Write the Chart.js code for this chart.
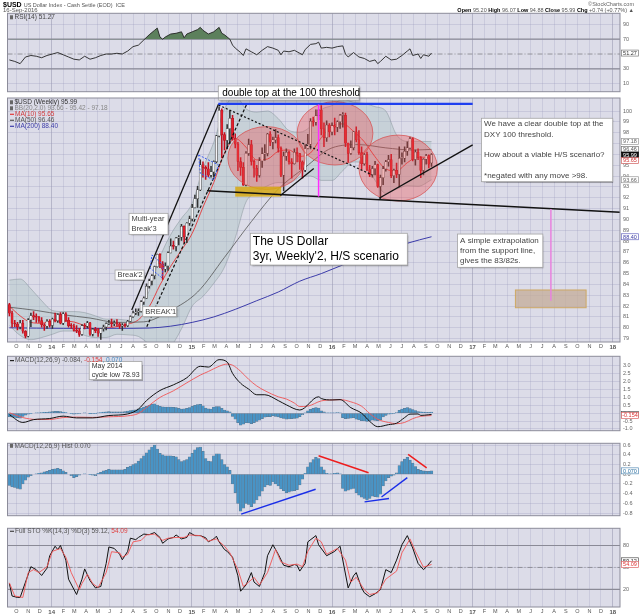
<!DOCTYPE html>
<html><head><meta charset="utf-8"><title>$USD weekly</title>
<script src="https://cdn.jsdelivr.net/npm/chart.js@4.4.1/dist/chart.umd.min.js"></script>
<style>
html,body{margin:0;padding:0;background:#fff}
#wrap{position:relative;width:640px;height:614px;overflow:hidden;background:#fff}
#wrap canvas{position:absolute;left:0}
</style></head><body><div id="wrap"></div>
<script>
// ================= DATA =================
const firstWeek = '2013-09-13';            // week index 0 (Friday)
const monthLetters = ['J','F','M','A','M','J','J','A','S','O','N','D'];
const priceTicks = [79,80,81,82,83,84,85,86,87,88,89,90,91,92,93,94,95,96,97,98,99,100];
const rsiTicks = [10,30,70,90];
const macdTicks = [-1,-0.5,0,0.5,1,1.5,2,2.5,3];
const histTicks = [-0.8,-0.6,-0.4,-0.2,0,0.2,0.4,0.6];
const stoTicks = [20,50,80];

const opens = [82.15,81.35,80.43,80.35,80.08,80.43,79.68,79.22,80.73,81.13,
80.99,80.98,80.67,80.28,80.16,80.59,80.23,80.81,80.66,81.22,
80.43,81.28,80.68,80.19,80.17,79.75,79.69,79.40,80.18,80.14,
80.46,79.41,79.86,79.73,79.50,79.92,80.07,80.38,80.40,80.39,
80.44,80.37,80.14,80.26,80.20,80.60,81.03,81.36,81.44,81.52,
82.39,82.74,83.83,84.33,84.80,85.65,86.77,85.90,85.40,85.70,
86.91,87.55,87.51,88.28,88.37,89.35,88.38,89.65,90.05,91.08,
91.91,92.72,95.03,94.80,94.66,94.08,94.38,95.33,97.70,100.06,
97.82,97.28,98.38,99.33,97.51,96.94,95.34,94.80,93.15,96.09,
96.90,95.35,94.72,94.05,95.40,96.05,96.09,97.88,97.13,97.34,
97.55,96.57,94.08,95.84,96.19,95.32,95.14,96.18,96.07,95.30,
94.55,96.54,96.94,99.05,98.98,99.56,100.08,98.35,97.54,98.70,
98.06,98.63,98.52,99.01,99.59,99.61,97.03,96.09,96.61,98.07,
97.33,96.16,95.14,95.99,94.60,94.10,94.69,95.06,93.05,93.86,
94.66,95.31,95.51,94.03,94.52,94.15,95.63,95.64,96.29,96.60,
97.45,95.53,96.21,95.71,94.52,95.55,95.88,95.20];
const highs = [82.25,81.55,80.70,80.50,80.70,80.70,79.75,80.85,81.35,81.50,
81.30,81.05,80.95,80.40,80.75,80.75,80.90,81.35,81.30,81.40,
81.40,81.40,80.95,80.40,80.35,80.20,79.95,80.30,80.40,80.60,
80.50,79.95,80.05,79.95,79.95,80.25,80.45,80.70,80.80,80.65,
80.75,80.45,80.40,80.40,80.70,81.10,81.55,81.75,81.75,82.50,
82.85,84.05,84.50,84.90,85.70,86.80,86.85,86.10,86.00,87.00,
88.20,88.00,88.35,88.50,89.55,89.40,89.70,90.30,91.40,92.25,
93.05,95.50,95.30,94.95,95.25,94.90,95.40,97.75,100.39,100.20,
98.00,98.75,100.05,99.60,97.90,97.10,95.70,95.25,96.25,97.40,
97.30,95.50,95.00,95.70,96.60,96.90,97.95,98.10,97.60,98.30,
97.80,96.70,96.20,96.50,96.30,95.60,96.50,96.60,96.10,95.40,
96.90,97.85,99.30,99.45,100.10,100.15,100.51,98.90,99.10,98.85,
98.90,99.35,99.10,99.70,99.85,99.80,97.05,97.25,98.10,98.55,
98.20,96.70,96.10,96.20,95.00,94.90,95.35,95.10,94.10,94.90,
95.45,95.90,96.00,94.65,95.20,96.70,96.15,96.70,97.15,97.60,
97.55,96.40,96.50,95.80,95.60,96.00,95.95,96.07];
const lows = [81.10,80.06,80.10,79.80,79.90,79.50,79.06,79.15,80.10,80.75,
80.50,80.50,80.05,79.75,79.95,80.05,79.95,80.55,80.50,80.35,
80.30,80.60,80.05,79.95,79.70,79.55,79.20,79.30,79.90,80.00,
79.30,79.25,79.55,79.20,78.93,79.70,79.80,80.30,80.10,80.20,
80.15,79.95,79.75,80.05,80.10,80.55,80.95,81.20,81.15,81.45,
82.15,82.70,83.65,83.95,84.50,85.60,85.55,84.47,85.15,85.30,
86.90,87.25,87.10,87.65,88.05,87.80,87.85,89.45,89.85,91.05,
91.10,92.65,93.90,93.70,93.95,93.90,93.90,95.20,97.60,95.70,
96.40,96.50,97.00,97.30,96.60,94.50,94.05,93.13,93.10,95.90,
95.00,93.90,93.50,93.90,94.80,95.45,95.85,96.80,96.50,97.05,
96.20,93.95,92.62,95.45,95.10,93.80,95.10,95.30,94.60,93.80,
94.40,96.50,96.50,98.60,98.70,99.20,97.80,96.70,97.20,97.60,
97.80,97.80,98.10,98.40,98.50,96.70,95.25,96.00,96.40,97.15,
96.00,94.60,95.00,94.50,93.95,93.90,94.10,92.95,91.92,93.20,
94.45,94.90,93.85,93.40,93.85,93.00,95.10,95.30,95.90,96.50,
95.40,95.00,95.50,93.85,94.10,95.10,94.75,94.88];
const closes = [81.35,80.43,80.35,80.08,80.43,79.68,79.22,80.73,81.13,80.99,
80.98,80.67,80.28,80.16,80.59,80.23,80.81,80.66,81.22,80.43,
81.28,80.68,80.19,80.17,79.75,79.69,79.40,80.18,80.14,80.46,
79.41,79.86,79.73,79.50,79.92,80.07,80.38,80.40,80.39,80.44,
80.37,80.14,80.26,80.20,80.60,81.03,81.36,81.44,81.52,82.39,
82.74,83.83,84.33,84.80,85.65,86.77,85.90,85.40,85.70,86.91,
87.55,87.51,88.28,88.37,89.35,88.38,89.65,90.05,91.08,91.91,
92.72,95.03,94.80,94.66,94.08,94.38,95.33,97.70,100.06,97.82,
97.28,98.38,99.33,97.51,96.94,95.34,94.80,93.15,96.09,96.90,
95.35,94.72,94.05,95.40,96.05,96.09,97.88,97.13,97.34,97.55,
96.57,94.08,95.84,96.19,95.32,95.14,96.18,96.07,95.30,94.55,
96.54,96.94,99.05,98.98,99.56,100.08,98.35,97.54,98.70,98.06,
98.63,98.52,99.01,99.59,99.61,97.03,96.09,96.61,98.07,97.33,
96.16,95.14,95.99,94.60,94.10,94.69,95.06,93.05,93.86,94.66,
95.31,95.51,94.03,94.52,94.15,95.63,95.64,96.29,96.60,97.45,
95.53,96.21,95.71,94.52,95.55,95.88,95.10,95.99];

const bbWeeks = [0,4,8,12,16,20,24,28,32,36,40,44,48,52,56,60,64,68,72,76,80,84,88,92,96,100,104,108,112,116,120,124,128,132,136,140,144,148,152,157];
const bbUpper = [84.4,84.5,83.6,82.5,81.6,81.5,81.5,81.4,81.1,80.8,80.8,80.7,81.6,83.4,86.5,88.6,90.1,91.5,94.7,97.1,100.2,101.4,100.2,99.9,100.0,99.3,98.2,98.05,98.6,100.1,100.5,101.1,100.8,100.7,100.4,100.0,97.8,97.2,97.2,97.18];
const bbLower = [80.2,79.3,78.9,79.1,79.4,79.7,79.7,79.3,79.1,79.1,79.4,79.35,79.2,78.5,77.95,78.3,79.9,82.0,82.9,84.1,85.6,88.3,91.6,92.5,93.1,93.4,93.35,93.9,94.0,93.6,93.6,94.5,95.3,95.2,93.6,92.4,92.8,93.1,93.05,93.66];

const ma10Weeks = [0,4,8,12,16,20,24,28,32,36,40,44,48,52,56,60,64,68,72,76,80,84,88,92,96,100,104,108,112,116,120,124,128,132,136,140,144,148,152,157];
const ma10 = [82.0,81.1,80.5,80.42,80.66,80.63,80.54,80.19,79.88,79.97,80.11,80.33,80.74,81.94,83.94,85.68,87.17,88.71,91.13,93.40,96.11,97.47,96.66,95.49,95.57,96.28,96.40,95.82,96.13,97.54,98.59,98.81,98.12,97.16,95.78,94.65,94.48,95.23,95.77,95.65];
const ma50Weeks = [0,10,20,30,40,50,60,70,80,90,100,110,120,130,140,150,157];
const ma50 = [81.9,81.6,81.2,80.9,80.5,80.55,81.6,83.3,86.5,89.8,92.8,94.8,96.6,96.9,96.6,96.4,96.46];
const ma200Weeks = [0,20,40,52,60,68,76,84,92,100,108,116,124,132,140,148,157];
const ma200 = [80.0,79.95,79.95,79.98,80.15,80.5,81.0,81.7,82.5,83.3,84.3,85.0,85.8,86.5,87.1,87.8,88.4];

const rsiWeeks = [0,2,4,6,8,10,12,14,16,18,20,22,24,26,28,30,32,34,36,38,40,42,44,46,48,50,52,54,55,56,57,58,60,62,64,65,66,68,70,71,72,74,76,78,79,80,82,83,84,86,87,88,90,92,94,96,98,100,101,102,104,106,108,109,110,112,114,115,116,118,120,122,124,125,126,128,130,132,134,136,137,138,140,142,144,146,148,149,150,152,153,154,156,157];
const rsiVals = [42,40,37,46,48,47,45,48,50,52,49,46,43,42,47,43,45,48,50,50,51,50,54,60,62,69,76,82,85,73,70,73,77,78,80,72,77,80,83,86,82,77,80,86,78,76,70,62,58,52,48,57,53,49,55,60,58,55,49,54,53,55,51,49,56,63,64,66,58,59,58,60,61,50,46,52,46,44,40,42,37,40,47,42,43,48,54,57,48,50,44,49,47,51.27];

const macdWeeks = [0,5,9,15,20,25,31,37,44,48,51,56,61,66,71,74,78,81,83,86,89,92,95,100,103,108,115,116,120,123,127,131,134,137,141,144,147,149,152,153,156,157];
const macdLine = [-0.1,-0.59,-0.41,-0.34,-0.19,-0.3,-0.3,-0.15,-0.05,0.26,0.8,1.44,1.8,2.25,2.98,2.93,3.4,3.25,2.53,1.9,1.53,1.17,1.17,0.8,0.53,0.2,1.04,0.93,0.84,0.86,0.35,0,-0.52,-0.86,-0.73,-0.64,-0.28,-0.06,-0.05,-0.14,-0.1,-0.084];
const signalWeeks = [0,5,10,15,20,25,31,37,44,48,51,56,61,66,71,74,78,81,83,86,89,92,95,100,103,106,108,111,116,120,123,127,131,134,137,141,144,147,150,153,157];
const signalLine = [0.03,-0.28,-0.4,-0.4,-0.28,-0.25,-0.27,-0.23,-0.17,-0.02,0.36,1.0,1.42,1.93,2.42,2.65,2.98,3.12,3.05,2.66,2.15,1.73,1.43,1.04,0.9,0.64,0.42,0.45,0.78,0.84,0.86,0.72,0.44,-0.02,-0.39,-0.59,-0.67,-0.59,-0.35,-0.2,-0.154];
const macdHist = [-0.23,-0.26,-0.27,-0.29,-0.31,-0.20,-0.12,-0.06,-0.03,0.0,
0.01,0.02,0.03,0.05,0.06,0.08,0.10,0.11,0.12,0.10,
0.07,0.04,0.0,-0.03,-0.07,-0.05,-0.02,0.0,0.01,0.0,
-0.01,-0.02,-0.03,0.02,0.04,0.07,0.08,0.10,0.09,0.09,
0.09,0.09,0.09,0.10,0.14,0.17,0.20,0.22,0.27,0.32,
0.38,0.44,0.50,0.56,0.60,0.52,0.43,0.40,0.38,0.38,
0.38,0.37,0.36,0.30,0.26,0.28,0.30,0.36,0.43,0.50,
0.55,0.56,0.47,0.32,0.27,0.26,0.38,0.42,0.42,0.30,
0.20,0.15,0.08,-0.20,-0.38,-0.60,-0.76,-0.70,-0.60,-0.62,
-0.67,-0.60,-0.53,-0.45,-0.35,-0.26,-0.22,-0.23,-0.16,-0.20,
-0.24,-0.30,-0.34,-0.38,-0.37,-0.35,-0.34,-0.32,-0.22,-0.10,
0.02,0.15,0.24,0.30,0.35,0.32,0.15,0.09,0.02,0.01,
0.01,0.02,0.03,0.01,-0.29,-0.35,-0.33,-0.31,-0.29,-0.38,
-0.43,-0.47,-0.50,-0.53,-0.50,-0.45,-0.46,-0.47,-0.41,-0.24,
-0.14,-0.07,-0.04,-0.02,0.03,0.18,0.26,0.31,0.35,0.29,
0.23,0.16,0.10,0.08,0.07,0.06,0.06,0.07];

const stoKWeeks = [0,1,3,4,6,8,10,12,14,15,17,18,19,21,22,25,27,28,30,32,34,36,37,39,41,42,44,45,47,48,50,52,54,56,57,59,61,62,64,66,67,69,71,73,74,76,77,78,80,81,83,85,86,88,90,91,93,95,96,98,100,102,104,106,107,108,110,111,114,115,118,121,123,126,128,129,131,132,134,136,138,140,142,144,146,148,150,152,154,155,157];
const stoK = [28,11,9,9,30,51,47,39,49,66,79,74.5,80,60,34,13,34,48,32,22,24,55.5,78,76,68,60.5,72,90,88,91,95.6,94.8,97.7,91,83,89,91,94.4,89,91,97.7,93.5,93.5,90.6,85,89,92.7,85,74.5,72,64,38.6,17.5,26,43,30,24,43,66,81,68,53,51,54,53,45,55.5,85,93.5,81,66,72,79,22,38.6,43,22,15.4,10,14,19.6,47,43,60,81,93.5,76.6,55.5,47,50.4,59.12];
const stoDWeeks = [0,2,5,7,9,11,14,16,19,21,23,26,27,29,31,33,36,38,41,42,44,46,49,51,54,57,59,62,65,67,71,74,77,80,82,85,87,89,91,93,96,99,101,104,107,109,111,114,116,118,122,125,127,129,132,134,137,140,144,146,149,151,154,157];
const stoD = [29,11,9,43,47,43,51,72,76,64,43,19.6,28,40.7,28,22.5,43,71.5,70,64,68,85,87,94.4,95.6,87,90,91,91,94.4,93.5,86,89,79,70,47,24,30,36.5,26,43,74.5,57.6,53,54.6,51,72,90,85,68,76,60,30,36.5,19.6,13,15.4,34,45,70,89,72,50.4,54.09];

// ================= RENDERING =================
const FONT = '"Liberation Sans", Arial, Helvetica, sans-serif';
Chart.defaults.font.family = FONT;
const PLOT_BG = '#dcdce8';
const X_MIN = -0.7, X_MAX = 227.1;
const wrap = document.getElementById('wrap');

const DAY = 86400000;
const t0 = Date.parse(firstWeek + 'T00:00:00Z');
const monthPos = [], monthLbl = [], monthYear = [];
for (let k = 2013 * 12 + 9; k <= 2018 * 12; k++) {
  const y = Math.floor(k / 12), m = k % 12;
  monthPos.push((Date.UTC(y, m, 1) - t0) / (7 * DAY));
  monthLbl.push(m === 0 ? String(y).slice(2) : monthLetters[m]);
  monthYear.push(m === 0);
}
const weeks = closes.map((_, i) => i);
const pts = (xs, ys) => xs.map((x, i) => ({ x, y: ys[i] }));
const isUp = i => closes[i] >= opens[i];

function xAxis(showLabels, h) {
  return {
    type: 'linear', min: X_MIN, max: X_MAX, offset: false,
    afterBuildTicks: s => { s.ticks = monthPos.map(v => ({ value: v })); },
    afterFit: s => { s.height = h; },
    ticks: {
      display: showLabels, autoSkip: false, maxRotation: 0, minRotation: 0, padding: 1.5, color: '#555',
      font: c => ({ size: monthYear[c.index] ? 6 : 5.5, weight: monthYear[c.index] ? 'bold' : 'normal' }),
      callback: (v, i) => monthLbl[i]
    },
    grid: { offset: false, drawTicks: false, lineWidth: 0.8,
      color: c => monthYear[c.index] ? 'rgba(125,125,155,0.5)' : 'rgba(150,150,185,0.32)' },
    border: { display: false }
  };
}
function yAxis(min, max, ticks, fmt) {
  return {
    type: 'linear', position: 'right', min, max, beginAtZero: false,
    afterBuildTicks: s => { s.ticks = ticks.map(v => ({ value: v })); },
    afterFit: s => { s.width = 20; },
    ticks: { color: '#666', font: { size: 5.5 }, padding: 3, autoSkip: false, callback: v => fmt(v) },
    grid: { drawTicks: false, color: 'rgba(150,150,185,0.35)', lineWidth: 0.8 },
    border: { display: false }
  };
}

function textBox(ctx, x, y, w, h, n) {
  ctx.save();
  ctx.shadowColor = 'rgba(0,0,0,0.3)'; ctx.shadowOffsetX = 1.5; ctx.shadowOffsetY = 1.5; ctx.shadowBlur = 1.5;
  ctx.fillStyle = '#fff'; ctx.fillRect(x, y, w, h);
  ctx.shadowColor = 'rgba(0,0,0,0)';
  ctx.strokeStyle = '#a4a4a4'; ctx.lineWidth = 0.8; ctx.strokeRect(x, y, w, h);
  ctx.fillStyle = n.color || '#333'; ctx.font = n.size + 'px ' + FONT; ctx.textBaseline = 'middle';
  const lh = n.lh || n.size * 1.25;
  let cy = y + (h - n.lines.length * lh) / 2 + lh / 2;
  n.lines.forEach(l => { ctx.fillText(l, x + (n.pad || 2.5), cy); cy += lh; });
  ctx.restore();
}

function drawNotes(ch, notes) {
  const ctx = ch.ctx, X = v => ch.scales.x.getPixelForValue(v), Y = v => ch.scales.y.getPixelForValue(v);
  notes.forEach(n => {
    ctx.save();
    if (n.kind === 'ellipse') {
      ctx.beginPath();
      ctx.ellipse(X(n.cx), Y(n.cy), Math.abs(X(n.cx + n.rx) - X(n.cx)), Math.abs(Y(n.cy + n.ry) - Y(n.cy)), 0, 0, Math.PI * 2);
      ctx.fillStyle = n.fill; ctx.fill();
      ctx.strokeStyle = n.stroke; ctx.lineWidth = 1; ctx.stroke();
    } else if (n.kind === 'rect') {
      const x = X(n.x1), y = Y(n.y1), w = X(n.x2) - x, h = Y(n.y2) - y;
      ctx.fillStyle = n.fill; ctx.fillRect(x, y, w, h);
      if (n.stroke) { ctx.strokeStyle = n.stroke; ctx.lineWidth = 1; ctx.strokeRect(x, y, w, h); }
    } else if (n.kind === 'line') {
      ctx.strokeStyle = n.color; ctx.lineWidth = n.width || 1; ctx.setLineDash(n.dash || []);
      ctx.beginPath(); ctx.moveTo(X(n.x1), Y(n.y1)); ctx.lineTo(X(n.x2), Y(n.y2)); ctx.stroke();
    } else if (n.kind === 'poly') {
      ctx.strokeStyle = n.color; ctx.lineWidth = n.width || 1; ctx.setLineDash(n.dash || []);
      ctx.beginPath();
      n.pts.forEach((p, i) => i ? ctx.lineTo(X(p[0]), Y(p[1])) : ctx.moveTo(X(p[0]), Y(p[1])));
      ctx.closePath(); ctx.stroke();
    } else if (n.kind === 'box') {
      const x = X(n.x1), y = Y(n.y1);
      textBox(ctx, x, y, X(n.x2) - x, Y(n.y2) - y, n);
    }
    ctx.restore();
  });
}

function drawLegend(ch, rows, y0) {
  const ctx = ch.ctx, a = ch.chartArea;
  ctx.save(); ctx.textBaseline = 'middle'; ctx.font = '6.5px ' + FONT;
  rows.forEach((r, i) => {
    const y = a.top + y0 + i * 6;
    let x = a.left + 2.5;
    if (r.icon) { ctx.fillStyle = '#666'; ctx.fillRect(x, y - 2, 3, 4); x += 4.5; }
    if (r.swatch) { ctx.strokeStyle = r.swatch; ctx.lineWidth = 1.2; ctx.beginPath(); ctx.moveTo(x, y); ctx.lineTo(x + 4, y); ctx.stroke(); x += 5; }
    r.parts.forEach(p => { ctx.fillStyle = p[1]; ctx.fillText(p[0], x, y); x += ctx.measureText(p[0]).width; });
  });
  ctx.restore();
}

function drawValueBoxes(ch, boxes, gap) {
  const ctx = ch.ctx, a = ch.chartArea, ys = ch.scales.y;
  let last = -1e9;
  ctx.save(); ctx.font = '5.5px ' + FONT; ctx.textBaseline = 'middle'; ctx.textAlign = 'center';
  boxes.forEach(b => {
    let y = ys.getPixelForValue(b.v);
    if (y < last + gap) y = last + gap;
    last = y;
    const x = a.right + 1.5, w = 17, h = 6;
    ctx.fillStyle = b.bg || '#fff'; ctx.fillRect(x, y - h / 2, w, h);
    ctx.strokeStyle = b.border; ctx.lineWidth = 0.7; ctx.strokeRect(x, y - h / 2, w, h);
    ctx.fillStyle = b.fg; ctx.fillText(b.t, x + w / 2, y + 0.3);
  });
  ctx.restore();
}

function decor(d) {
  return {
    id: 'decor',
    beforeDraw(ch) {
      const { ctx, chartArea: a } = ch;
      ctx.save(); ctx.fillStyle = PLOT_BG; ctx.fillRect(a.left, a.top, a.right - a.left, a.bottom - a.top); ctx.restore();
    },
    beforeDatasetsDraw(ch) {
      const { ctx, chartArea: a } = ch, ys = ch.scales.y;
      (d.refs || []).forEach(r => {
        const y = ys.getPixelForValue(r.v);
        ctx.save(); ctx.strokeStyle = r.color; ctx.lineWidth = r.w || 1; ctx.setLineDash(r.dash || []);
        ctx.beginPath(); ctx.moveTo(a.left, y); ctx.lineTo(a.right, y); ctx.stroke(); ctx.restore();
      });
    },
    afterDatasetsDraw(ch) { drawNotes(ch, d.notes || []); },
    afterDraw(ch) {
      const { ctx, chartArea: a } = ch;
      ctx.save(); ctx.strokeStyle = '#8c8c9a'; ctx.lineWidth = 1;
      ctx.strokeRect(a.left, a.top, a.right - a.left, a.bottom - a.top); ctx.restore();
      if (d.legend) drawLegend(ch, d.legend, d.legendY || 4.3);
      if (d.boxes) drawValueBoxes(ch, d.boxes, d.gap || 0);
      if (d.extra) d.extra(ch);
    }
  };
}

function panel(top, height, padTop, type, datasets, scales, deco) {
  const c = document.createElement('canvas');
  c.width = 640; c.height = height;
  c.style.top = top + 'px'; c.style.width = '640px'; c.style.height = height + 'px';
  wrap.appendChild(c);
  return new Chart(c, {
    type, data: { datasets },
    options: {
      responsive: false, animation: false, events: [],
      layout: { padding: { left: 7.5, right: 0, top: padTop, bottom: 0 } },
      plugins: { legend: { display: false }, tooltip: { enabled: false } },
      scales
    },
    plugins: [decor(deco)]
  });
}

function header(ch) {
  const ctx = ch.ctx;
  ctx.save(); ctx.textBaseline = 'middle';
  ctx.font = 'bold 7px ' + FONT; ctx.fillStyle = '#000'; ctx.fillText('$USD', 3, 5);
  const w = ctx.measureText('$USD').width;
  ctx.font = '5.5px ' + FONT; ctx.fillStyle = '#555';
  ctx.fillText('US Dollar Index - Cash Settle (EOD)  ICE', 5 + w, 5);
  ctx.font = '6px ' + FONT; ctx.fillText('16-Sep-2016', 3, 10.5);
  ctx.textAlign = 'right'; ctx.font = '5.5px ' + FONT; ctx.fillStyle = '#666';
  ctx.fillText('\u00A9StockCharts.com', 634, 4.5);
  const parts = [['Open', 1], [' 95.20 ', 0], ['High', 1], [' 96.07 ', 0], ['Low', 1], [' 94.88 ', 0], ['Close', 1], [' 95.99 ', 0], ['Chg', 1], [' +0.74 (+0.77%) \u25B2', 0]];
  ctx.textAlign = 'left';
  let total = 0;
  parts.forEach(p => { ctx.font = (p[1] ? 'bold ' : '') + '5.5px ' + FONT; total += ctx.measureText(p[0]).width; });
  let x = 634 - total;
  parts.forEach(p => {
    ctx.font = (p[1] ? 'bold ' : '') + '5.5px ' + FONT; ctx.fillStyle = p[1] ? '#000' : '#555';
    ctx.fillText(p[0], x, 10.5); x += ctx.measureText(p[0]).width;
  });
  ctx.restore();
}

// ---- RSI panel ----
panel(0, 98, 13.3, 'line', [
  { data: pts(rsiWeeks, rsiVals), borderColor: '#222', borderWidth: 0.9, pointRadius: 0, tension: 0,
    fill: { target: { value: 70 }, above: 'rgb(92,128,92)', below: 'rgba(0,0,0,0)' } }
], { x: xAxis(false, 0), y: yAxis(-0.9, 105, rsiTicks, v => String(v)) }, {
  refs: [{ v: 70, color: '#8a8a96', w: 1.2 }, { v: 30, color: '#8a8a96', w: 1.2 }, { v: 50, color: '#8a8a90', w: 0.9, dash: [5, 2, 1, 2] }],
  legend: [{ icon: true, parts: [['RSI(14) 51.27', '#444']] }], legendY: 4,
  boxes: [{ v: 51.27, t: '51.27', fg: '#333', border: '#777' }],
  extra: header
});

// ---- Price panel ----
const mainNotes = [
  { kind: 'ellipse', cx: 95.6, cy: 95.66, rx: 14.35, ry: 2.9, fill: 'rgba(238,70,70,0.34)', stroke: 'rgba(215,80,80,0.75)' },
  { kind: 'ellipse', cx: 121.1, cy: 97.94, rx: 14.1, ry: 2.92, fill: 'rgba(238,70,70,0.34)', stroke: 'rgba(215,80,80,0.75)' },
  { kind: 'ellipse', cx: 144.6, cy: 94.74, rx: 14.6, ry: 3.04, fill: 'rgba(238,70,70,0.34)', stroke: 'rgba(215,80,80,0.75)' },
  { kind: 'rect', x1: 84.0, y1: 93.02, x2: 101.1, y2: 92.1, fill: 'rgba(214,168,18,0.85)' },
  { kind: 'line', x1: 73.5, y1: 92.64, x2: 227.1, y2: 90.66, color: '#111', width: 1.6 },
  { kind: 'line', x1: 137.5, y1: 91.95, x2: 172.3, y2: 96.87, color: '#111', width: 1.4 },
  { kind: 'line', x1: 100.8, y1: 92.2, x2: 113.2, y2: 94.7, color: '#111', width: 1.3 },
  { kind: 'line', x1: 77.8, y1: 100.55, x2: 135, y2: 94.1, color: '#111', width: 1.2, dash: [2, 2] },
  { kind: 'line', x1: 45.5, y1: 81.64, x2: 77.8, y2: 100.65, color: '#111', width: 1.3 },
  { kind: 'line', x1: 51.1, y1: 80.1, x2: 88.4, y2: 100.7, color: '#111', width: 1.2, dash: [3, 2] },
  { kind: 'poly', pts: [[70.4, 95.94], [77.8, 95.02], [76.0, 93.63], [71.0, 94.25]], color: '#3a5cf0', width: 1, dash: [2, 1.5] },
  { kind: 'poly', pts: [[53.0, 86.72], [57.3, 85.8], [56.7, 84.62], [52.4, 85.49]], color: '#3a5cf0', width: 1, dash: [2, 1.5] },
  { kind: 'line', x1: 77.7, y1: 100.65, x2: 172.3, y2: 100.65, color: '#1e3ff0', width: 2.2 },
  { kind: 'line', x1: 115, y1: 100.6, x2: 115, y2: 92.1, color: '#ff2cff', width: 1.5 },
  { kind: 'rect', x1: 188.2, y1: 83.49, x2: 214.5, y2: 81.85, fill: 'rgba(196,172,152,0.75)', stroke: 'rgba(205,165,90,0.9)' },
  { kind: 'line', x1: 201.4, y1: 90.95, x2: 201.4, y2: 82.5, color: 'rgb(232,130,222)', width: 1.5 },
  { kind: 'box', x1: 77.7, y1: 102.31, x2: 130.1, y2: 101.01, lines: ['double top at the 100 threshold'], size: 10, color: '#000', pad: 4 },
  { kind: 'box', x1: 44.5, y1: 90.56, x2: 59, y2: 88.62, lines: ['Multi-year', "Break'3"], size: 7.5, lh: 9.7, color: '#444' },
  { kind: 'box', x1: 39.3, y1: 85.33, x2: 50.1, y2: 84.41, lines: ["Break'2"], size: 7.5, color: '#444' },
  { kind: 'box', x1: 49.6, y1: 81.95, x2: 62.1, y2: 81.03, lines: ["BREAK'1"], size: 7.5, color: '#444' },
  { kind: 'box', x1: 89.6, y1: 88.72, x2: 148, y2: 85.79, lines: ['The US Dollar', "3yr, Weekly'2, H/S scenario"], size: 12, lh: 15, color: '#000' },
  { kind: 'box', x1: 175.6, y1: 99.33, x2: 224.4, y2: 93.48, lines: ['We have a clear double top at the', 'DXY 100 threshold.', '', 'How about a viable H/S scenario?', '', '*negated with any move >98.'], size: 8, lh: 10.3, color: '#444' },
  { kind: 'box', x1: 166.7, y1: 88.65, x2: 198.4, y2: 85.58, lines: ['A simple extrapolation', 'from the support line,', 'gives the 83/82s.'], size: 8, lh: 10.3, color: '#444' }
];
const lineDs = (xs, ys, color, w, order) => ({ type: 'line', data: pts(xs, ys), borderColor: color, borderWidth: w,
  pointRadius: 0, fill: false, cubicInterpolationMode: 'monotone', order });
panel(80, 270, 18, 'bar', [
  lineDs(bbWeeks, bbUpper, 'rgba(125,138,145,0.75)', 0.6, 20),
  Object.assign(lineDs(bbWeeks, bbLower, 'rgba(125,138,145,0.75)', 0.6, 20), { fill: '-1', backgroundColor: 'rgba(165,192,190,0.38)' }),
  lineDs(ma200Weeks, ma200, 'rgb(60,60,170)', 1, 10),
  lineDs(ma50Weeks, ma50, 'rgb(85,85,85)', 0.8, 10),
  lineDs(ma10Weeks, ma10, 'rgb(228,55,55)', 0.9, 10),
  { type: 'bar', data: weeks.map(i => ({ x: i, y: [lows[i], highs[i]] })), barThickness: 0.9, grouped: false, order: 3,
    backgroundColor: c => isUp(c.dataIndex) ? '#333' : '#c41020', borderWidth: 0 },
  { type: 'bar', data: weeks.map(i => ({ x: i, y: [opens[i], closes[i]] })), barThickness: 2.2, grouped: false, order: 2,
    minBarLength: 1, borderSkipped: false, borderWidth: 0.5,
    backgroundColor: c => isUp(c.dataIndex) ? '#f3f3f6' : '#e2202c',
    borderColor: c => isUp(c.dataIndex) ? '#333' : '#b2101c' }
], { x: xAxis(true, 8), y: yAxis(78.69, 101.2, priceTicks, v => String(v)) }, {
  notes: mainNotes,
  legend: [
    { icon: true, parts: [['$USD (Weekly) 95.99', '#333']] },
    { icon: true, parts: [['BB(20,2.0) 93.66 - 95.42 - 97.18', '#888']] },
    { swatch: 'rgb(228,55,55)', parts: [['MA(10) 95.65', '#d03a3a']] },
    { swatch: '#555', parts: [['MA(50) 96.46', '#555']] },
    { swatch: 'rgb(60,60,170)', parts: [['MA(200) 88.40', '#3c3ca8']] }
  ], legendY: 4.3,
  boxes: [
    { v: 97.18, t: '97.18', fg: '#666', border: '#999' },
    { v: 96.46, t: '96.46', fg: '#555', border: '#777' },
    { v: 95.99, t: '95.99', fg: '#fff', bg: '#111', border: '#000' },
    { v: 95.65, t: '95.65', fg: '#d03030', border: '#d06060' },
    { v: 93.66, t: '93.66', fg: '#666', border: '#999' },
    { v: 88.40, t: '88.40', fg: '#3a3aa0', border: '#6a6ac0' }
  ], gap: 5.6
});

// ---- MACD panel ----
const histBar = () => ({ type: 'bar', data: weeks.map(i => ({ x: i, y: macdHist[i] })), barPercentage: 1, categoryPercentage: 1,
  grouped: false, order: 3, backgroundColor: 'rgb(72,148,198)', borderColor: 'rgb(95,118,140)', borderWidth: 0.5, borderSkipped: false });
panel(350, 87, 0, 'bar', [
  histBar(),
  lineDs(signalWeeks, signalLine, 'rgb(240,85,85)', 0.9, 2),
  lineDs(macdWeeks, macdLine, '#111', 1, 1)
], { x: xAxis(false, 0), y: yAxis(-1.114, 3.614, macdTicks, v => v.toFixed(1)) }, {
  notes: [{ kind: 'box', x1: 29.7, y1: 3.29, x2: 49.3, y2: 2.13, lines: ['May 2014', 'cycle low 78.93'], size: 7, lh: 9.3, color: '#333' }],
  legend: [{ swatch: '#222', parts: [['MACD(12,26,9) -0.084, ', '#555'], ['-0.154', '#e04040'], [', 0.070', '#4a8cc0']] }], legendY: 4.3,
  boxes: [{ v: -0.084, t: '-0.084', fg: '#222', border: '#555' }, { v: -0.154, t: '-0.154', fg: '#d33', border: '#d66' }], gap: 0
});

// ---- MACD histogram panel ----
panel(437, 85, 0, 'bar', [histBar()],
  { x: xAxis(false, 0), y: yAxis(-0.854, 0.637, histTicks, v => v.toFixed(1)) }, {
  notes: [
    { kind: 'line', x1: 115, y1: 0.38, x2: 133.6, y2: 0.03, color: '#ee1c1c', width: 1.4 },
    { kind: 'line', x1: 148.3, y1: 0.41, x2: 155.2, y2: 0.13, color: '#ee1c1c', width: 1.4 },
    { kind: 'line', x1: 86.2, y1: -0.82, x2: 113.9, y2: -0.31, color: '#1a2ee8', width: 1.4 },
    { kind: 'line', x1: 132.1, y1: -0.57, x2: 141.2, y2: -0.5, color: '#1a2ee8', width: 1.4 },
    { kind: 'line', x1: 138.4, y1: -0.47, x2: 148, y2: -0.07, color: '#1a2ee8', width: 1.4 }
  ],
  legend: [{ icon: true, parts: [['MACD(12,26,9) Hist 0.070', '#555']] }], legendY: 2.5,
  boxes: [{ v: 0.07, t: '0.070', fg: '#2a6fa0', border: '#5a8fb8' }]
});

// ---- Full stochastics panel ----
panel(522, 92, 0, 'line', [
  { data: pts(stoDWeeks, stoD), borderColor: 'rgb(240,85,85)', borderWidth: 0.9, pointRadius: 0, tension: 0, fill: false },
  { data: pts(stoKWeeks, stoK), borderColor: '#111', borderWidth: 1, pointRadius: 0, tension: 0, fill: false }
], { x: xAxis(true, 7), y: yAxis(-4.05, 103.5, stoTicks, v => String(v)) }, {
  refs: [{ v: 80, color: '#8a8a96', w: 1.2 }, { v: 20, color: '#8a8a96', w: 1.2 }, { v: 50, color: '#8a8a90', w: 0.9, dash: [5, 2, 1, 2] }],
  legend: [{ swatch: '#444', parts: [['Full STO %K(14,3) %D(3) 59.12, ', '#555'], ['54.09', '#e04040']] }], legendY: 3,
  boxes: [{ v: 59.12, t: '59.12', fg: '#222', border: '#555' }, { v: 54.09, t: '54.09', fg: '#d33', border: '#d66' }], gap: 0
});
</script>
</body></html>
